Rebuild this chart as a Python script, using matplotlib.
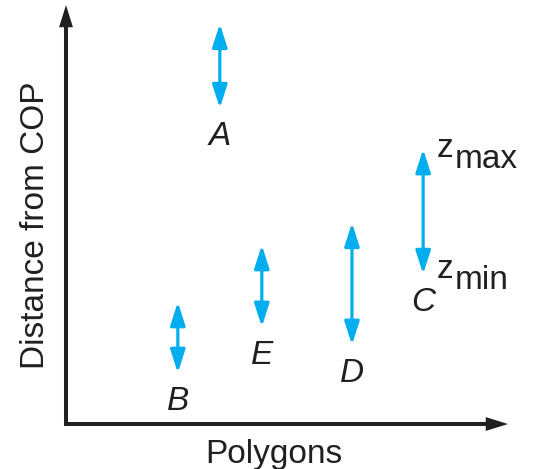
import matplotlib.pyplot as plt

# depth range (z_min .. z_max) of each polygon, measured from the centre of projection
polygons = ['A', 'B', 'C', 'D', 'E']
positions = [3.48, 2.53, 8.08, 6.47, 4.43]
z_max = [9.55, 2.91, 6.56, 4.80, 4.27]
z_min = [7.54, 1.22, 3.58, 1.89, 2.32]

ink = '#231F20'
blue = '#00AEEF'
plt.rcParams['font.family'] = ['Liberation Sans', 'DejaVu Sans']

fig = plt.figure(figsize=(5.34, 4.69), dpi=100)
ax = fig.add_axes([0.1236, 0.0959, 0.8277, 0.8934])
ax.set_xlim(0, 10)
ax.set_ylim(0, 10)
ax.set_xticks([])
ax.set_yticks([])
for s in ax.spines.values():
    s.set_visible(False)

# axes with arrow heads
ax.plot([0, 0, 0.95], [0.96, 0, 0], transform=ax.transAxes, color=ink,
        lw=2.9, clip_on=False, solid_joinstyle='miter', solid_capstyle='butt')
for tip, tail in [((1, 0), (0.93, 0)), ((0, 1), (0, 0.93))]:
    ax.annotate('', xy=tip, xytext=tail, xycoords='axes fraction',
                arrowprops=dict(arrowstyle='-|>,head_length=16,head_width=5',
                                mutation_scale=1, lw=0, color=ink,
                                shrinkA=0, shrinkB=0))

ax.set_xlabel('Polygons', fontsize=24, color=ink, va='baseline')
ax.xaxis.set_label_coords(0.47, -0.093)
ax.set_ylabel('Distance from COP', fontsize=24, color=ink, va='center', ha='center')
ax.yaxis.set_label_coords(-0.068, 0.475)

for name, x, hi, lo in zip(polygons, positions, z_max, z_min):
    ax.annotate('', xy=(x, hi), xytext=(x, lo),
                arrowprops=dict(arrowstyle='<|-|>,head_length=14,head_width=4.5',
                                mutation_scale=1, lw=2.3, color=blue,
                                shrinkA=0, shrinkB=0))
    ax.annotate(name, xy=(x, lo), xytext=(0, -26.6), textcoords='offset points',
                ha='center', va='baseline', fontsize=24, style='italic', color=ink)

# z_max / z_min marks next to polygon C
c = polygons.index('C')
for value, sub, dz, ds in [(z_max[c], 'max', -5.8, -13.7), (z_min[c], 'min', -2.9, -10.8)]:
    ax.annotate('z', xy=(positions[c], value), xytext=(9.4, dz),
                textcoords='offset points', ha='left', va='baseline',
                fontsize=24, color=ink)
    ax.annotate(sub, xy=(positions[c], value), xytext=(23, ds),
                textcoords='offset points', ha='left', va='baseline',
                fontsize=24, color=ink)

fig.savefig('out.png', dpi=100)
